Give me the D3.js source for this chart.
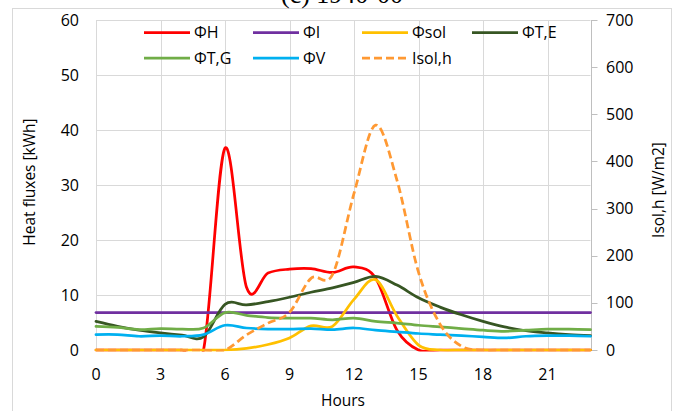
<!DOCTYPE html>
<html><head><meta charset="utf-8">
<script src="https://cdn.jsdelivr.net/npm/d3@7"></script>
<style>
html,body{margin:0;padding:0;background:#fff;}
svg{display:block;font-family:"Open Sans",sans-serif;}
</style></head>
<body><svg id="chart" width="681" height="411"></svg>
<script>
const hours = [0,1,2,3,4,5,6,7,8,9,10,11,12,13,14,15,16,17,18,19,20,21,22,23];
const phiH   = [0,0,0,0,0,0,36.7,11.4,14.0,14.7,14.8,14.1,15.1,13.1,3.6,0,0,0,0,0,0,0,0,0];
const phiI   = [6.8,6.8,6.8,6.8,6.8,6.8,6.8,6.8,6.8,6.8,6.8,6.8,6.8,6.8,6.8,6.8,6.8,6.8,6.8,6.8,6.8,6.8,6.8,6.8];
const phiSol = [0,0,0,0,0,0,0,0.3,1.0,2.2,4.4,4.3,9.2,12.8,6.2,0.9,0,0,0,0,0,0,0,0];
const phiTE  = [5.2,4.3,3.6,3.1,2.7,2.4,8.3,8.2,8.8,9.6,10.5,11.3,12.3,13.4,11.8,9.5,7.8,6.4,5.2,4.2,3.5,3.1,2.8,2.6];
const phiTG  = [4.3,4.1,3.7,3.9,3.8,4.0,6.8,6.3,5.9,5.8,5.8,5.5,5.8,5.2,4.9,4.5,4.2,3.9,3.6,3.4,3.6,3.8,3.8,3.7];
const phiV   = [2.8,2.8,2.5,2.6,2.5,2.8,4.5,4.0,3.8,3.8,3.9,3.7,4.0,3.6,3.3,3.0,2.8,2.6,2.4,2.2,2.5,2.6,2.6,2.5];
const isolH  = [0,0,0,0,0,0,0,32,57,80,152,160,332,477,360,165,55,8,0,0,0,0,0,0];
const xTicks = [0,3,6,9,12,15,18,21];
const yTicksLeft = [0,10,20,30,40,50,60];
const yTicksRight = [0,100,200,300,400,500,600,700];
const seriesNames = ["ΦH","ΦI","Φsol","ΦT,E","ΦT,G","ΦV","Isol,h"];
const seriesColors = ["#FF0000","#7030A0","#FFC000","#375623","#70AD47","#00B0F0","#FF9933"];

const svg = d3.select("#chart");
const L = 96, R = 590.5, T = 20, B = 350;
const x = d3.scaleLinear().domain([0,23]).range([L,R]);
const yL = d3.scaleLinear().domain([0,60]).range([B,T]);
const yR = d3.scaleLinear().domain([0,700]).range([B,T]);

// outer border
svg.append("rect").attr("x",12.5).attr("y",8.5).attr("width",659).attr("height",420)
  .attr("fill","none").attr("stroke","#d9d9d9").attr("stroke-width",1);

// title (cut off at top, as in the reference)
svg.append("text").attr("x",342).attr("y",3).attr("text-anchor","middle")
  .attr("font-family","'Liberation Serif',serif").attr("font-size",26).attr("fill","#000")
  .text("(c) 1940-00");

// gridlines
const grid = svg.append("g").attr("stroke","#d9d9d9").attr("stroke-width",1);
yTicksLeft.forEach(v=>{
  grid.append("line").attr("x1",L).attr("x2",R).attr("y1",Math.round(yL(v))+0.5).attr("y2",Math.round(yL(v))+0.5);
});
xTicks.forEach(v=>{
  grid.append("line").attr("x1",Math.round(x(v))+0.5).attr("x2",Math.round(x(v))+0.5).attr("y1",T).attr("y2",B);
});
// right axis line + ticks
const rAxis = svg.append("g").attr("transform",`translate(${Math.round(R)+0.5},0)`);
rAxis.append("line").attr("y1",T).attr("y2",B).attr("stroke","#bfbfbf");
yTicksRight.forEach(v=>{
  rAxis.append("line").attr("x1",0).attr("x2",6).attr("y1",Math.round(yR(v))+0.5).attr("y2",Math.round(yR(v))+0.5).attr("stroke","#bfbfbf");
});

// tick labels
const tl = svg.append("g").attr("font-size",16).attr("fill","#000");
yTicksLeft.forEach(v=>{
  tl.append("text").attr("x",79).attr("y",yL(v)).attr("dy","0.35em").attr("text-anchor","end").text(v);
});
yTicksRight.forEach(v=>{
  tl.append("text").attr("x",606).attr("y",yR(v)).attr("dy","0.35em").attr("text-anchor","start").text(v);
});
xTicks.forEach(v=>{
  tl.append("text").attr("x",x(v)).attr("y",380).attr("text-anchor","middle").text(v);
});

// axis titles
svg.append("text").attr("transform","translate(35,182) rotate(-90)").attr("text-anchor","middle")
  .attr("font-size",15.5).text("Heat fluxes [kWh]");
svg.append("text").attr("transform","translate(664,190) rotate(-90)").attr("text-anchor","middle")
  .attr("font-size",15.5).text("Isol,h [W/m2]");
svg.append("text").attr("x",343).attr("y",406).attr("text-anchor","middle")
  .attr("font-size",15.5).text("Hours");

// clip
svg.append("clipPath").attr("id","clip").append("rect").attr("x",L-2).attr("y",T-2).attr("width",R-L+4).attr("height",B-T+3.5);

const plot = svg.append("g").attr("clip-path","url(#clip)");
const curve = d3.curveCardinal.tension(0);
const lineL = d3.line().x((d,i)=>x(hours[i])).y(d=>yL(d)).curve(curve);
const lineR = d3.line().x((d,i)=>x(hours[i])).y(d=>yR(d)).curve(curve);

const leftSeries = [phiH, phiI, phiSol, phiTE, phiTG, phiV];
leftSeries.forEach((s,i)=>{
  plot.append("path").attr("d",lineL(s)).attr("fill","none")
    .attr("stroke",seriesColors[i]).attr("stroke-width",2.75).attr("stroke-linejoin","round").attr("stroke-linecap","round");
});
plot.append("path").attr("d",lineR(isolH)).attr("fill","none")
  .attr("stroke",seriesColors[6]).attr("stroke-width",2.75).attr("stroke-dasharray","8,4");

// legend
const legPos = [[144,32.5],[253,32.5],[362,32.5],[472,32.5],[144,58],[253,58],[362,58]];
const leg = svg.append("g");
seriesNames.forEach((n,i)=>{
  const [lx,ly] = legPos[i];
  leg.append("line").attr("x1",lx).attr("x2",lx+46).attr("y1",ly).attr("y2",ly)
    .attr("stroke",seriesColors[i]).attr("stroke-width",2.75)
    .attr("stroke-dasharray", i===6 ? "8,4" : null);
  leg.append("text").attr("x",lx+50).attr("y",ly).attr("dy","0.35em").attr("font-size",16).text(n);
});
</script></body></html>
